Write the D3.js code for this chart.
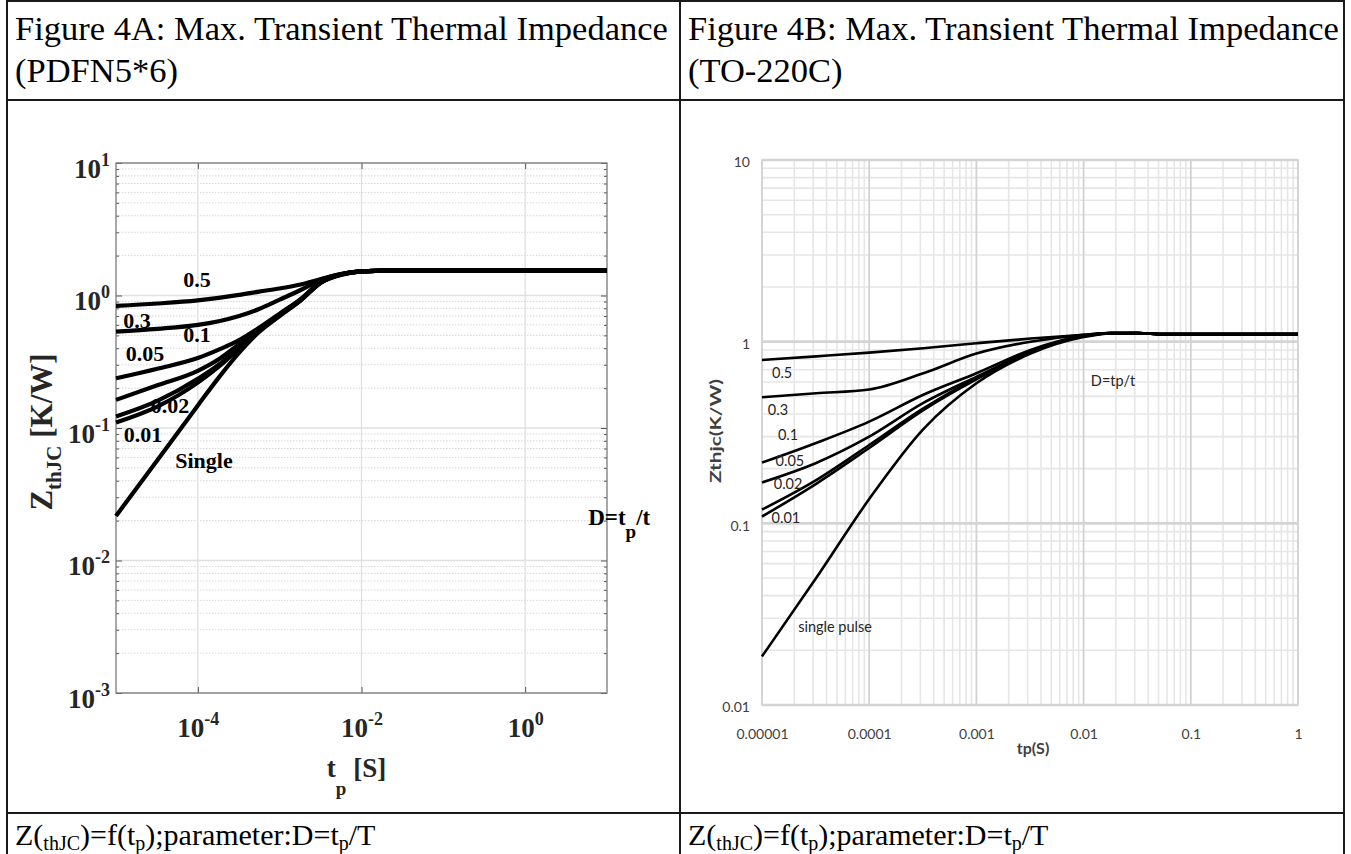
<!DOCTYPE html>
<html>
<head>
<meta charset="utf-8">
<script src="https://cdn.jsdelivr.net/npm/d3@7"></script>
<style>
  body { margin: 0; background: #fff; }
  svg { display: block; }
</style>
</head>
<body>
<svg id="page" width="1351" height="854"></svg>
<script>
// ---------- Figure 4A (PDFN5*6) ----------
const dutyA = ["0.5", "0.3", "0.1", "0.05", "0.02", "0.01", "Single"];
const tpA = [1e-5, 3.2e-5, 1e-4, 1.8e-4, 3.2e-4, 5.6e-4, 1e-3, 1.8e-3, 3.2e-3, 5.6e-3, 1e-2, 3.2e-2, 1e-1, 1, 10];
const zA_d05    = [0.834, 0.87, 0.92, 0.96, 1.01, 1.07, 1.13, 1.21, 1.33, 1.45, 1.52, 1.55, 1.55, 1.55, 1.55];
const zA_d03    = [0.533, 0.56, 0.60, 0.64, 0.70, 0.79, 0.93, 1.10, 1.31, 1.45, 1.52, 1.55, 1.55, 1.55, 1.55];
const zA_d01    = [0.237, 0.28, 0.337, 0.39, 0.46, 0.57, 0.73, 0.94, 1.27, 1.44, 1.52, 1.55, 1.55, 1.55, 1.55];
const zA_d005   = [0.163, 0.21, 0.27, 0.33, 0.43, 0.56, 0.72, 0.93, 1.26, 1.44, 1.52, 1.55, 1.55, 1.55, 1.55];
const zA_d002   = [0.122, 0.16, 0.235, 0.30, 0.41, 0.55, 0.715, 0.925, 1.26, 1.44, 1.52, 1.55, 1.55, 1.55, 1.55];
const zA_d001   = [0.110, 0.145, 0.22, 0.29, 0.40, 0.545, 0.71, 0.92, 1.255, 1.44, 1.52, 1.55, 1.55, 1.55, 1.55];
const zA_single = [0.0217, 0.057, 0.148, 0.24, 0.37, 0.53, 0.70, 0.915, 1.25, 1.43, 1.52, 1.55, 1.55, 1.55, 1.55];
const yExpA = [-3, -2, -1, 0, 1];
const xExpA = [-4, -2, 0];
// label anchors in data units [tp, Z]
const labelAtA = [[9.8e-5, 1.31], [1.8e-5, 0.653], [9.8e-5, 0.504], [2.26e-5, 0.368],
                  [4.57e-5, 0.147], [2.14e-5, 0.090], [1.19e-4, 0.0573]];

// ---------- Figure 4B (TO-220C) ----------
const dutyB = ["0.5", "0.3", "0.1", "0.05", "0.02", "0.01", "single pulse"];
const tpB = [1e-5, 3.2e-5, 1e-4, 3.2e-4, 1e-3, 3.2e-3, 1e-2, 1.8e-2, 3.2e-2, 5.6e-2, 1e-1, 1];
const zB_d05    = [0.793, 0.83, 0.87, 0.92, 0.98, 1.04, 1.09, 1.115, 1.115, 1.10, 1.10, 1.10];
const zB_d03    = [0.494, 0.52, 0.545, 0.67, 0.86, 1.00, 1.09, 1.115, 1.115, 1.10, 1.10, 1.10];
const zB_d01    = [0.216, 0.277, 0.363, 0.51, 0.67, 0.90, 1.08, 1.115, 1.115, 1.10, 1.10, 1.10];
const zB_d005   = [0.168, 0.215, 0.30, 0.46, 0.64, 0.88, 1.07, 1.115, 1.115, 1.10, 1.10, 1.10];
const zB_d002   = [0.119, 0.173, 0.27, 0.43, 0.63, 0.87, 1.07, 1.115, 1.115, 1.10, 1.10, 1.10];
const zB_d001   = [0.109, 0.165, 0.26, 0.42, 0.62, 0.87, 1.07, 1.115, 1.115, 1.10, 1.10, 1.10];
const zB_single = [0.0185, 0.050, 0.136, 0.33, 0.59, 0.86, 1.06, 1.11, 1.115, 1.10, 1.10, 1.10];
const xTicksB = [1e-5, 1e-4, 1e-3, 1e-2, 1e-1, 1];
const xTickLabelsB = ["0.00001", "0.0001", "0.001", "0.01", "0.1", "1"];
const yTicksB = [0.01, 0.1, 1, 10];
const yTickLabelsB = ["0.01", "0.1", "1", "10"];
const labelAtB = [[1.54e-5, 0.673], [1.41e-5, 0.421], [1.75e-5, 0.307], [1.82e-5, 0.223],
                  [1.75e-5, 0.165], [1.67e-5, 0.107], [4.8e-5, 0.0269]];

// ---------- page / table ----------
const svg = d3.select("#page");
svg.append("rect").attr("width", 1351).attr("height", 854).attr("fill", "#fff");

const SERIF = "'Liberation Serif', 'Times New Roman', serif";
const SANS = "Lato, 'Open Sans', sans-serif";

const table = svg.append("g").attr("stroke", "#1a1a1a").attr("stroke-width", 2);
[[7, 1, 1344, 1], [7, 100, 1344, 100], [7, 813, 1344, 813],
 [7, 0, 7, 854], [680, 0, 680, 854], [1344, 0, 1344, 854]].forEach(l =>
  table.append("line").attr("x1", l[0]).attr("y1", l[1]).attr("x2", l[2]).attr("y2", l[3]));

function titleCell(x, line1, line2) {
  const t = svg.append("text").attr("font-family", SERIF).attr("font-size", 34.5).attr("fill", "#000");
  t.append("tspan").attr("x", x).attr("y", 40).text(line1);
  t.append("tspan").attr("x", x).attr("y", 82).text(line2);
}
titleCell(15, "Figure 4A: Max. Transient Thermal Impedance", "(PDFN5*6)");
titleCell(688, "Figure 4B: Max. Transient Thermal Impedance", "(TO-220C)");

function footerCell(x) {
  const t = svg.append("text").attr("x", x).attr("y", 845)
    .attr("font-family", SERIF).attr("font-size", 30).attr("fill", "#000");
  const sub = (s) => { t.append("tspan").attr("font-size", 20).attr("dy", 5).text(s); };
  const main = (s) => { t.append("tspan").attr("dy", -5).text(s); };
  t.append("tspan").text("Z(");
  sub("thJC"); main(")=f(t");
  sub("p"); main(");parameter:D=t");
  sub("p"); main("/T");
}
footerCell(15);
footerCell(688);

// ---------- Figure 4A chart ----------
(function () {
  const L = 116, R = 607, T = 163, B = 693;
  const x = d3.scaleLog().domain([1e-5, 10]).range([L, R]);
  const y = d3.scaleLog().domain([1e-3, 10]).range([B, T]);
  const g = svg.append("g");
  const yMajor = yExpA.map(e => Math.pow(10, e));
  const xMajor = xExpA.map(e => Math.pow(10, e));
  const yMinor = y.ticks().filter(v => !yMajor.some(m => Math.abs(v / m - 1) < 1e-6));

  // grid
  g.append("g").selectAll("line").data(yMinor).join("line")
    .attr("x1", L).attr("x2", R).attr("y1", d => y(d)).attr("y2", d => y(d))
    .attr("stroke", "#d6d6d6").attr("stroke-width", 1).attr("stroke-dasharray", "1.5,1.5");
  g.append("g").selectAll("line").data(yMajor).join("line")
    .attr("x1", L).attr("x2", R).attr("y1", d => y(d)).attr("y2", d => y(d))
    .attr("stroke", "#e0e0e0").attr("stroke-width", 1.3);
  g.append("g").selectAll("line").data(xMajor).join("line")
    .attr("y1", T).attr("y2", B).attr("x1", d => x(d)).attr("x2", d => x(d))
    .attr("stroke", "#e0e0e0").attr("stroke-width", 1.3);

  // axes (ticks point inward)
  const axStyle = sel => { sel.select(".domain").remove(); sel.selectAll(".tick line").attr("stroke", "#555"); };
  const fmtNone = () => "";
  g.append("g").attr("transform", `translate(${R},0)`)
    .call(d3.axisRight(y).tickValues(yMajor).tickSize(-6).tickFormat(fmtNone)).call(axStyle);
  g.append("g").attr("transform", `translate(${R},0)`)
    .call(d3.axisRight(y).tickValues(yMinor).tickSize(-3).tickFormat(fmtNone)).call(axStyle);
  g.append("g").attr("transform", `translate(${L},0)`)
    .call(d3.axisLeft(y).tickValues(yMinor).tickSize(-3).tickFormat(fmtNone)).call(axStyle);
  g.append("g").attr("transform", `translate(0,${T})`)
    .call(d3.axisTop(x).tickValues(xMajor).tickSize(-6).tickFormat(fmtNone)).call(axStyle);

  const yAx = g.append("g").attr("transform", `translate(${L},0)`)
    .call(d3.axisLeft(y).tickValues(yMajor).tickSize(-6).tickPadding(6).tickFormat(fmtNone)).call(axStyle);
  yAx.selectAll(".tick text").each(function (d) {
    const t = d3.select(this).attr("font-family", SERIF).attr("font-weight", "bold")
      .attr("font-size", 27).attr("fill", "#262626").attr("dy", "0.52em");
    t.append("tspan").text("10");
    t.append("tspan").attr("font-size", 18).attr("dy", -12).text(String(Math.round(Math.log10(d))));
  });
  const xAx = g.append("g").attr("transform", `translate(0,${B})`)
    .call(d3.axisBottom(x).tickValues(xMajor).tickSize(-6).tickPadding(25).tickFormat(fmtNone)).call(axStyle);
  xAx.selectAll(".tick text").each(function (d) {
    const t = d3.select(this).attr("font-family", SERIF).attr("font-weight", "bold")
      .attr("font-size", 27).attr("fill", "#262626").attr("dy", "0.71em");
    t.append("tspan").text("10");
    t.append("tspan").attr("font-size", 18).attr("dy", -12).text(String(Math.round(Math.log10(d))));
  });

  g.append("rect").attr("x", L).attr("y", T).attr("width", R - L).attr("height", B - T)
    .attr("fill", "none").attr("stroke", "#7a7a7a").attr("stroke-width", 1.3);

  // curves
  const series = [zA_d05, zA_d03, zA_d01, zA_d005, zA_d002, zA_d001, zA_single];
  const line = d3.line().x((d, i) => x(tpA[i])).y(d => y(d)).curve(d3.curveMonotoneX);
  g.append("g").selectAll("path").data(series).join("path")
    .attr("d", line).attr("fill", "none").attr("stroke", "#000")
    .attr("stroke-width", 4.2).attr("stroke-linejoin", "round");

  // curve labels
  g.append("g").selectAll("text").data(dutyA).join("text")
    .attr("x", (d, i) => x(labelAtA[i][0])).attr("y", (d, i) => y(labelAtA[i][1]))
    .attr("text-anchor", "middle").attr("dominant-baseline", "central")
    .attr("font-family", SERIF).attr("font-weight", "bold").attr("font-size", 22).attr("fill", "#000")
    .text(d => d);

  const dt = g.append("text").attr("x", x(5.9)).attr("y", y(0.0185))
    .attr("font-family", SERIF).attr("font-weight", "bold").attr("font-size", 23).attr("fill", "#000");
  dt.append("tspan").text("D=t");
  dt.append("tspan").attr("dy", 13).attr("font-size", 19).text("p");
  dt.append("tspan").attr("dy", -13).text("/t");

  // axis titles
  const xt = g.append("text").attr("x", (L + R) / 2 - 5).attr("y", 777).attr("text-anchor", "middle")
    .attr("font-family", SERIF).attr("font-weight", "bold").attr("font-size", 27).attr("fill", "#262626");
  xt.append("tspan").text("t");
  xt.append("tspan").attr("dy", 18).attr("font-size", 19).text("p");
  xt.append("tspan").attr("dy", -18).text(" [S]");

  const yt = g.append("text").attr("transform", "translate(52,432) rotate(-90)").attr("text-anchor", "middle")
    .attr("font-family", SERIF).attr("font-weight", "bold").attr("font-size", 31).attr("fill", "#262626");
  yt.append("tspan").text("Z");
  yt.append("tspan").attr("dy", 9).attr("font-size", 21).text("thJC");
  yt.append("tspan").attr("dy", -9).text(" [K/W]");
})();

// ---------- Figure 4B chart ----------
(function () {
  const L = 762, R = 1298, T = 160, B = 705;
  const x = d3.scaleLog().domain([1e-5, 1]).range([L, R]);
  const y = d3.scaleLog().domain([0.01, 10]).range([B, T]);
  const g = svg.append("g");
  const isMajor = (v, list) => list.some(m => Math.abs(v / m - 1) < 1e-6);
  const xMinor = x.ticks().filter(v => !isMajor(v, xTicksB));
  const yMinor = y.ticks().filter(v => !isMajor(v, yTicksB));

  g.append("g").selectAll("line").data(xMinor).join("line")
    .attr("y1", T).attr("y2", B).attr("x1", d => x(d)).attr("x2", d => x(d))
    .attr("stroke", "#e6e6e6").attr("stroke-width", 1.6);
  g.append("g").selectAll("line").data(yMinor).join("line")
    .attr("x1", L).attr("x2", R).attr("y1", d => y(d)).attr("y2", d => y(d))
    .attr("stroke", "#e6e6e6").attr("stroke-width", 1.6);
  g.append("g").selectAll("line").data(xTicksB).join("line")
    .attr("y1", T).attr("y2", B).attr("x1", d => x(d)).attr("x2", d => x(d))
    .attr("stroke", "#d2d2d2").attr("stroke-width", 1.8);
  g.append("g").selectAll("line").data(yTicksB).join("line")
    .attr("x1", L).attr("x2", R).attr("y1", d => y(d)).attr("y2", d => y(d))
    .attr("stroke", "#d4d4d4").attr("stroke-width", 2.6);
  g.append("rect").attr("x", L).attr("y", T).attr("width", R - L).attr("height", B - T)
    .attr("fill", "none").attr("stroke", "#d4d4d4").attr("stroke-width", 1.6);

  const clean = sel => { sel.select(".domain").remove(); sel.selectAll(".tick line").remove(); };
  g.append("g").attr("transform", `translate(0,${B})`)
    .call(d3.axisBottom(x).tickValues(xTicksB).tickSize(0).tickPadding(24)
      .tickFormat((d, i) => xTickLabelsB[i])).call(clean)
    .selectAll("text").attr("font-family", SANS).attr("font-size", 14).attr("fill", "#404040");
  g.append("g").attr("transform", `translate(${L},0)`)
    .call(d3.axisLeft(y).tickValues(yTicksB).tickSize(0).tickPadding(12)
      .tickFormat((d, i) => yTickLabelsB[i])).call(clean)
    .selectAll("text").attr("font-family", SANS).attr("font-size", 14).attr("fill", "#404040")
    .attr("dy", "0.48em");

  const series = [zB_d05, zB_d03, zB_d01, zB_d005, zB_d002, zB_d001, zB_single];
  const line = d3.line().x((d, i) => x(tpB[i])).y(d => y(d)).curve(d3.curveMonotoneX);
  g.append("g").selectAll("path").data(series).join("path")
    .attr("d", line).attr("fill", "none").attr("stroke", "#000")
    .attr("stroke-width", 2.6).attr("stroke-linejoin", "round");

  g.append("g").selectAll("text").data(dutyB).join("text")
    .attr("x", (d, i) => x(labelAtB[i][0])).attr("y", (d, i) => y(labelAtB[i][1]))
    .attr("text-anchor", "middle").attr("dominant-baseline", "central")
    .attr("font-family", SANS).attr("font-size", 14.5).attr("fill", "#262626")
    .text(d => d);
  g.append("text").attr("x", x(0.0188)).attr("y", y(0.615))
    .attr("text-anchor", "middle").attr("dominant-baseline", "central")
    .attr("font-family", SANS).attr("font-size", 14.5).attr("fill", "#262626").text("D=tp/t");

  g.append("text").attr("x", 1033).attr("y", 754).attr("text-anchor", "middle")
    .attr("font-family", SANS).attr("font-weight", "bold").attr("font-size", 16).attr("fill", "#404040")
    .text("tp(S)");
  g.append("text").attr("transform", "translate(721,431) rotate(-90)").attr("text-anchor", "middle")
    .attr("font-family", SANS).attr("font-weight", "bold").attr("font-size", 16).attr("fill", "#404040")
    .attr("textLength", 104).attr("lengthAdjust", "spacingAndGlyphs")
    .text("Zthjc(K/W)");
})();
</script>
</body>
</html>
